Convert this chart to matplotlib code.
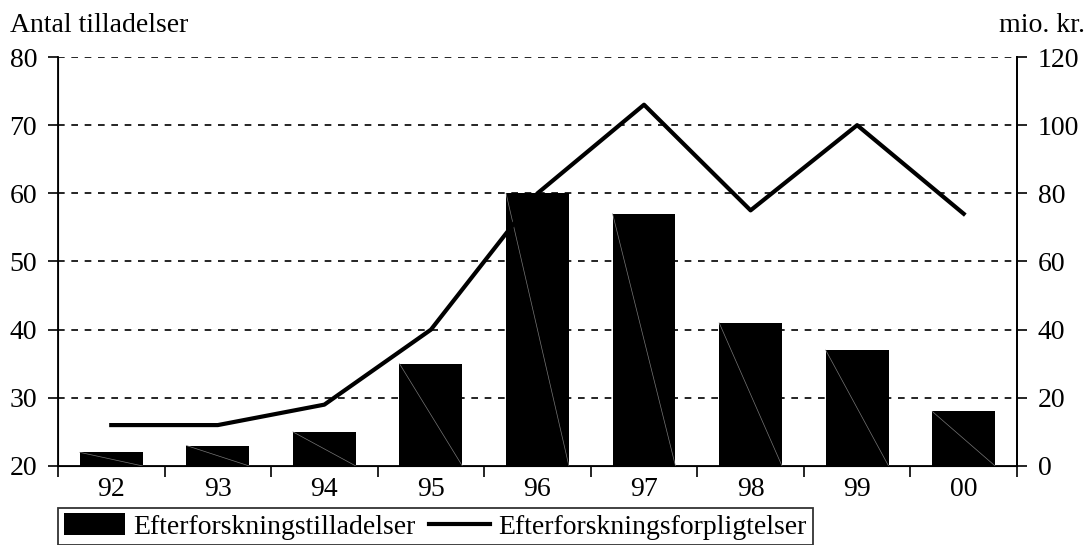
import matplotlib
matplotlib.use("Agg")
import matplotlib.pyplot as plt
import numpy as np

# data
years = ["92", "93", "94", "95", "96", "97", "98", "99", "00"]
tilladelser = [22, 23, 25, 35, 60, 57, 41, 37, 28]          # left axis
forpligtelser = [12, 12, 18, 40, 80, 106, 75, 100, 74]      # right axis, mio. kr.

plt.rcParams['font.family'] = ['Liberation Serif', 'DejaVu Serif']
fs = 20

fig = plt.figure(figsize=(10.9, 5.45), dpi=100)
ax = fig.add_axes([0.0532, 0.145, 0.8798, 0.7504])
x = np.arange(len(years))

bars = ax.bar(x, [v - 20 for v in tilladelser], bottom=20, width=0.59,
              color='black', zorder=3)
# faint diagonal seam inside every bar, as in the original export
for b in bars:
    ax.plot([b.get_x(), b.get_x() + b.get_width()],
            [b.get_y() + b.get_height(), b.get_y()],
            color='#777777', lw=0.5, zorder=4)

ax.set_xlim(-0.5, len(years) - 0.5)
ax.set_ylim(20, 80)
ax.set_yticks(range(20, 81, 10))
for v in range(30, 81, 10):
    ax.axhline(v, color='black', lw=1.2, ls=(0, (4, 4)), zorder=1)

ax.set_xticks(np.arange(len(years) + 1) - 0.5)
ax.set_xticklabels([])
ax.set_xticks(x, minor=True)
ax.set_xticklabels(years, minor=True)
ax.tick_params(axis='x', which='minor', length=0, labelsize=fs, pad=8)
ax.tick_params(axis='x', which='major', length=8, width=1.2, direction='out')
ax.tick_params(axis='y', length=7, width=1.2, direction='out', labelsize=fs, pad=8)
ax.spines['top'].set_visible(False)
for s in ['left', 'bottom', 'right']:
    ax.spines[s].set_linewidth(1.3)

ax2 = ax.twinx()
ax2.set_ylim(0, 120)
ax2.set_yticks(range(0, 121, 20))
ax2.tick_params(axis='y', length=7, width=1.2, direction='out', labelsize=fs, pad=8)
ax2.spines['top'].set_visible(False)
ax2.spines['right'].set_linewidth(1.3)
line, = ax2.plot(x, forpligtelser, color='black', lw=3, zorder=5)

fig.text(0.009, 0.93, "Antal tilladelser", fontsize=fs, ha='left', va='bottom')
fig.text(0.995, 0.93, "mio. kr.", fontsize=fs, ha='right', va='bottom')

leg = fig.legend([bars, line], ["Efterforskningstilladelser", "Efterforskningsforpligtelser"],
                 loc='upper left', bbox_to_anchor=(0.0532, 0.068), ncol=2,
                 fontsize=fs, frameon=True, fancybox=False, edgecolor='black',
                 handlelength=2.2, handleheight=0.8, columnspacing=0.5,
                 handletextpad=0.3, borderpad=0.2, borderaxespad=0)
leg.get_frame().set_linewidth(1.3)

fig.savefig("out.png", dpi=100)
